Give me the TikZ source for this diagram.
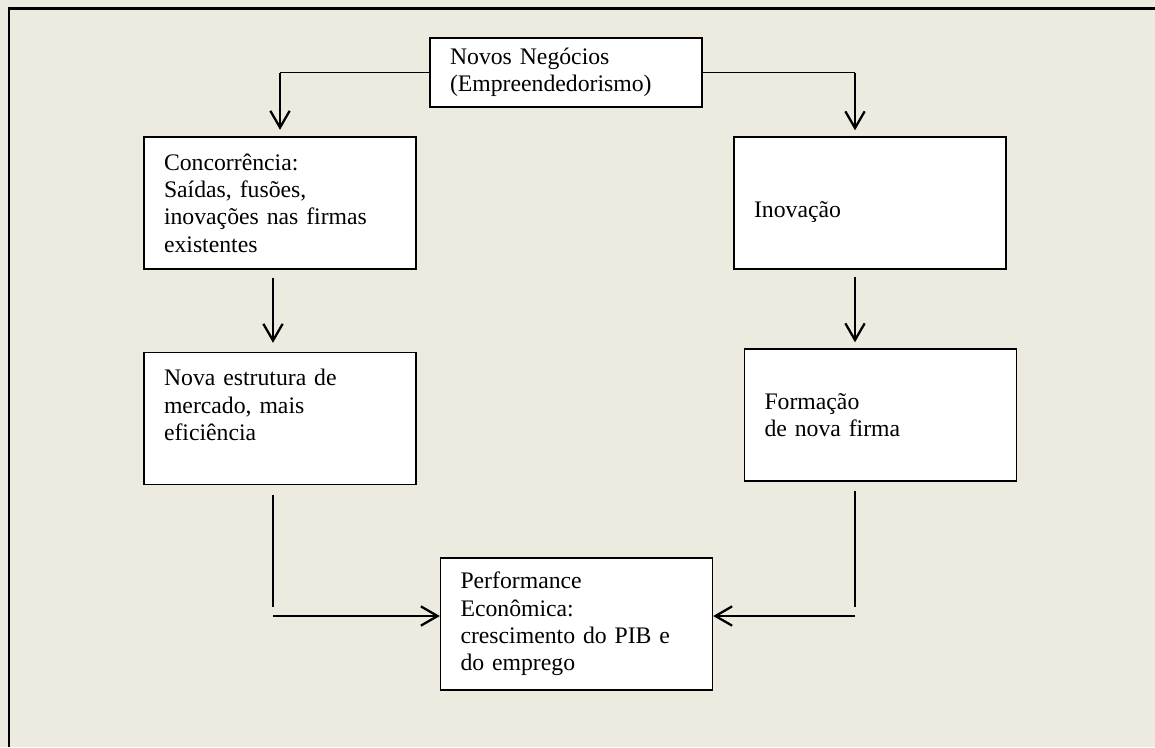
\documentclass[tikz,border=0pt]{standalone}
\usepackage{fontspec}
\setmainfont{Liberation Serif}
\usetikzlibrary{arrows.meta,positioning}
\definecolor{fundo}{RGB}{237,234,224}
\tikzset{
    %Define standard arrow tip
    >={Straight Barb[length=9.5pt,width=11pt]},
    %Define style for boxes
    stage/.style={
           rectangle,
           draw=black, line width=0.8pt,
           fill=white,
           minimum width=5.44cm,
           minimum height=2.64cm,
           text width=4.64cm,
           inner xsep=0.4cm, inner ysep=0pt,
           align=left,
           font=\fontsize{13.5}{15.6}\selectfont},
    % Define arrow style
    pil/.style={
           ->,
           line width=1.3pt},
    % plain connecting line
    link/.style={
           line width=0.7pt}
}
\begin{document}
\begin{tikzpicture}[x=0.02cm,y=-0.02cm]
\useasboundingbox (0,0) rectangle (1155,747);
\fill[fundo] (0,0) rectangle (1155,747);
\draw[line width=1.3pt] (9,747) |- (1155,8.5);

\node[stage, minimum height=1.38cm] (novos) at (566,72.5) {Novos Negócios\\(Empreendedorismo)};
\node[stage] (conc) at (280,203) {Concorrência:\\Saídas, fusões,\\inovações nas firmas\\existentes};
\node[stage] (nova) at (280,418.5) {Nova estrutura de\\mercado, mais\\eficiência\\~};
\node[stage, text height=0.68cm] (inov) at (870,203) {Inovação};
\node[stage] (form) at (880.5,415) {Formação\\de nova firma};
\node[stage] (perf) at (576.5,624) {Performance\\Econômica:\\crescimento do PIB e\\do emprego};

% entry points on the sides of the last box
\coordinate (pl) at ([yshift=0.16cm]perf.west);
\coordinate (pr) at ([yshift=0.16cm]perf.east);

% left branch
\draw[link] (novos.west) -- (novos.west -| conc.north);
\draw[pil, shorten >=0.13cm] (novos.west -| conc.north) -- (conc.north);
\draw[pil, shorten <=0.16cm, shorten >=0.18cm] ([xshift=-0.14cm]conc.south) -- ([xshift=-0.14cm]nova.north);
\draw[link, shorten <=0.2cm, shorten >=0.18cm] ([xshift=-0.14cm]nova.south) coordinate (na) -- (na |- pl);
\draw[pil] (na |- pl) -- (pl);

% right branch
\coordinate (ia) at ([xshift=-0.3cm]inov.south);
\draw[link] (novos.east) -- (novos.east -| ia);
\draw[pil, shorten >=0.12cm] (novos.east -| ia) -- (ia |- inov.north);
\draw[pil, shorten <=0.14cm, shorten >=0.12cm] (ia) -- (ia |- form.north);
\draw[link, shorten <=0.18cm, shorten >=0.18cm] (ia |- form.south) -- (ia |- pr);
\draw[pil] (ia |- pr) -- (pr);
\end{tikzpicture}
\end{document}
